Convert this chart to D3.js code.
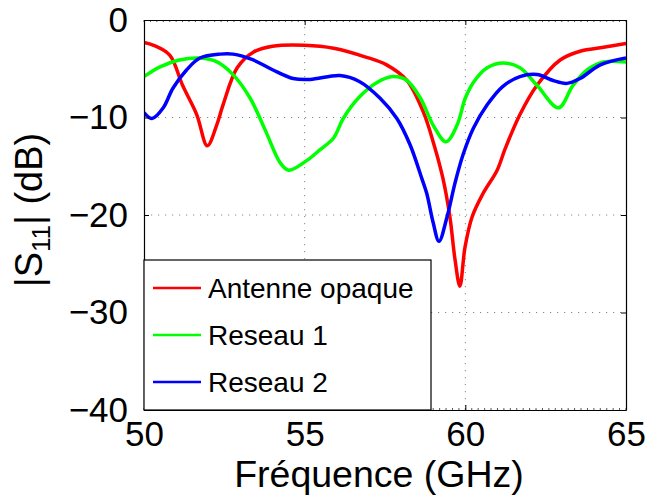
<!DOCTYPE html>
<html>
<head>
<meta charset="utf-8">
<script src="https://cdn.jsdelivr.net/npm/d3@7"></script>
<style>
  body { margin: 0; background: #fff; }
  svg { font-family: "Liberation Sans", Arial, sans-serif; }
</style>
</head>
<body>
<script>
// values
var seriesNames = ["Antenne opaque", "Reseau 1", "Reseau 2"];
var seriesColors = ["#ff0000", "#00ff00", "#0000ff"];
var xTicks = [50, 55, 60, 65];
var yTicks = [0, -10, -20, -30, -40];

var opaque = [[50,-2.3],[50.3,-2.6],[50.8,-3.6],[51.2,-6.7],[51.64,-9.7],[51.97,-12.9],
  [52.26,-10.8],[52.46,-8.7],[52.9,-4.9],[53.4,-3.3],[54,-2.7],[55,-2.6],[55.9,-2.9],
  [56.9,-3.8],[57.55,-4.6],[58.18,-6.2],[58.7,-9.5],[59,-12.5],[59.3,-16.2],[59.52,-20.2],
  [59.68,-24.6],[59.83,-27.3],[59.99,-23.3],[60.21,-20.2],[60.55,-17.8],[60.99,-15.4],
  [61.24,-13.2],[61.7,-9.7],[62.23,-6.7],[62.95,-4.1],[63.57,-3.2],[64.3,-2.8],[65,-2.4]];

var reseau1 = [[50,-5.8],[50.5,-4.8],[51.1,-4.1],[51.74,-3.9],[52.27,-4.3],[52.77,-5.6],
  [53.3,-8],[53.8,-11.5],[54.23,-14.6],[54.5,-15.4],[55.07,-14.4],[55.48,-13.3],[55.9,-12.1],
  [56.2,-10.1],[56.7,-7.9],[57.25,-6.4],[57.75,-5.8],[58.18,-6.2],[58.6,-8],[59,-10.8],
  [59.4,-12.5],[59.74,-10.8],[60,-8],[60.25,-6.4],[60.68,-4.9],[61.17,-4.4],[61.7,-4.9],
  [62.23,-6.7],[62.9,-9],[63.35,-6.7],[63.8,-5.1],[64.3,-4.3],[65,-4.3]];

var reseau2 = [[50,-9.5],[50.25,-10.1],[50.6,-9],[50.9,-7],[51.33,-5.1],[51.74,-3.9],
  [52.37,-3.5],[52.77,-3.5],[53.4,-4.1],[54,-5.1],[54.64,-6],[55.17,-6.1],[56.1,-5.7],
  [56.7,-6.3],[57.34,-8],[57.87,-10.1],[58.28,-12.8],[58.65,-16.3],[58.8,-17.8],[59,-20.8],
  [59.18,-22.7],[59.43,-20.2],[59.68,-16.7],[59.93,-13.8],[60.25,-11.1],[60.68,-8.7],
  [61.17,-6.8],[61.7,-5.8],[62.23,-5.6],[62.73,-6.2],[63.16,-6.5],[63.57,-6],[64.2,-4.6],[65,-3.9]];

var allSeries = [opaque, reseau1, reseau2];

var width = 646, height = 495;
var margin = {left: 144, top: 20, right: 20, bottom: 85};
var w = width - margin.left - margin.right,
    h = height - margin.top - margin.bottom;

var svg = d3.select("body").append("svg")
    .attr("width", width)
    .attr("height", height);

var g = svg.append("g")
    .attr("transform", "translate(" + margin.left + "," + margin.top + ")");

var x = d3.scaleLinear().domain([50, 65]).range([0, w]);
var y = d3.scaleLinear().domain([-40, 0]).range([h, 0]);

// dotted grid
g.append("g").selectAll("line")
    .data(xTicks.slice(1, -1))
    .enter().append("line")
    .attr("x1", d => x(d)).attr("x2", d => x(d))
    .attr("y1", 0).attr("y2", h)
    .attr("stroke", "#888").attr("stroke-dasharray", "1.2,5.8");
g.append("g").selectAll("line")
    .data(yTicks.slice(1, -1))
    .enter().append("line")
    .attr("y1", d => y(d)).attr("y2", d => y(d))
    .attr("x1", 0).attr("x2", w)
    .attr("stroke", "#888").attr("stroke-dasharray", "1.2,5.8");

// minor ticks top/bottom
var minor = d3.range(50, 65.01, 0.2);
g.append("g").selectAll("line")
    .data(minor)
    .enter().append("line")
    .attr("x1", d => x(d)).attr("x2", d => x(d))
    .attr("y1", h).attr("y2", h - 2)
    .attr("stroke", "#555");
g.append("g").selectAll("line")
    .data(minor)
    .enter().append("line")
    .attr("x1", d => x(d)).attr("x2", d => x(d))
    .attr("y1", 0).attr("y2", 2)
    .attr("stroke", "#555");

// curves
g.append("clipPath").attr("id", "clip")
  .append("rect").attr("width", w).attr("height", h);

var line = d3.line()
    .x(d => x(d[0]))
    .y(d => y(d[1]))
    .curve(d3.curveCatmullRom.alpha(0.5));

g.append("g").attr("clip-path", "url(#clip)")
  .selectAll("path")
    .data(allSeries)
    .enter().append("path")
    .attr("d", line)
    .attr("fill", "none")
    .attr("stroke", (d, i) => seriesColors[i])
    .attr("stroke-width", 3.5)
    .attr("stroke-linejoin", "round");

// axes
var xAxis = g.append("g")
    .attr("transform", "translate(0," + h + ")")
    .call(d3.axisBottom(x).tickValues(xTicks).tickSize(-5).tickSizeOuter(0).tickPadding(11));
var yAxis = g.append("g")
    .call(d3.axisLeft(y).tickValues(yTicks).tickSize(-5).tickSizeOuter(0).tickPadding(16)
      .tickFormat(d => d === 0 ? "0" : "\u2212" + Math.abs(d)));
g.append("g")
    .call(d3.axisTop(x).tickValues(xTicks).tickSize(-5).tickSizeOuter(0).tickFormat(""));
g.append("g")
    .attr("transform", "translate(" + w + ",0)")
    .call(d3.axisRight(y).tickValues(yTicks).tickSize(-5).tickSizeOuter(0).tickFormat(""));

g.selectAll(".domain").attr("stroke", "#000").attr("stroke-width", 1.2);
g.selectAll(".tick line").attr("stroke", "#000");
g.selectAll(".tick text")
    .attr("font-family", "Liberation Sans, Arial, sans-serif")
    .attr("font-size", 35)
    .attr("fill", "#000");

// legend
var legend = g.append("g");
legend.append("rect")
    .attr("x", 0).attr("y", 240)
    .attr("width", 287).attr("height", h - 240)
    .attr("fill", "#fff").attr("stroke", "#000").attr("stroke-width", 1.2);
var rows = legend.selectAll("g.row")
    .data(seriesNames)
    .enter().append("g")
    .attr("class", "row")
    .attr("transform", (d, i) => "translate(0," + (268 + i * 47) + ")");
rows.append("line")
    .attr("x1", 9).attr("x2", 57)
    .attr("stroke", (d, i) => seriesColors[i])
    .attr("stroke-width", 2.5);
rows.append("text")
    .attr("x", 64).attr("y", 9.5)
    .attr("font-size", 28)
    .text(d => d);

// axis titles
svg.append("text")
    .attr("x", 379)
    .attr("y", 487)
    .attr("text-anchor", "middle")
    .attr("font-size", 37.5)
    .text("Fréquence (GHz)");

var yt = svg.append("text")
    .attr("transform", "translate(42,210) rotate(-90)")
    .attr("text-anchor", "middle")
    .attr("font-size", 38);
yt.append("tspan").text("|S");
yt.append("tspan").attr("font-size", 26).attr("dy", 8).text("11");
yt.append("tspan").attr("dy", -8).text("| (dB)");
</script>
</body>
</html>
